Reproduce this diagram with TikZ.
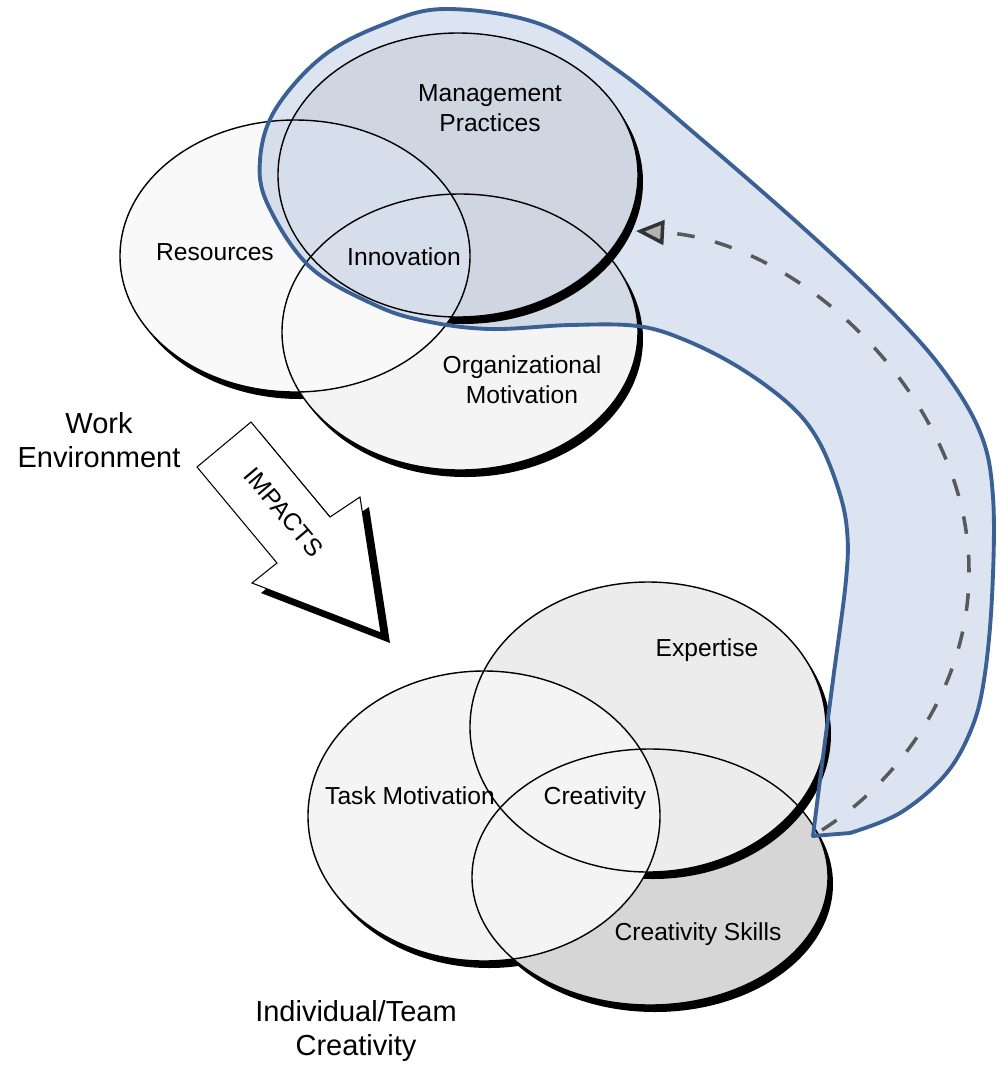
\documentclass[tikz,border=0pt]{standalone}
\usepackage{fontspec}
\setmainfont{Liberation Sans}
\usepackage{tikz}
\usetikzlibrary{arrows.meta}
\definecolor{blobfill}{RGB}{220,228,241}
\definecolor{blobline}{RGB}{58,96,148}
\tikzstyle{ring} = [draw=black, line width=0.8pt]
\tikzstyle{castshadow} = [fill=black]
\tikzstyle{setlabel} = [font=\fontsize{14}{17}\selectfont, align=center]
\tikzstyle{grouplabel} = [font=\fontsize{16.5}{19}\selectfont, align=center]
\tikzstyle{blob} = [draw=blobline, line width=2.2pt, line join=round]
\tikzstyle{feedback} = [draw=gray!70!black, line width=2pt, dash pattern=on 10pt off 12pt, -{Triangle[length=16pt,width=14pt,fill=gray!60,color=gray!40!black]}]
\tikzstyle{impactarrow} = [draw=black, line width=0.6pt, fill=white]
\tikzset{
  ressize/.style={x radius=175, y radius=136},
  mgtsize/.style={x radius=180, y radius=142},
  orgsize/.style={x radius=178, y radius=138},
  tasksize/.style={x radius=176, y radius=145},
  expsize/.style={x radius=178, y radius=145},
  skillsize/.style={x radius=178, y radius=128},
}

\begin{document}
\begin{tikzpicture}[x=0.02cm, y=-0.02cm]
  \useasboundingbox (0,0) rectangle (997,1066);

  % work environment circles
  \coordinate (res) at (295,256);
  \coordinate (mgt) at (458,175);
  \coordinate (org) at (460,332);
  \fill[castshadow] ([shift={(5,7)}]res) ellipse [ressize];
  \fill[castshadow] ([shift={(5,7)}]org) ellipse [orgsize];
  \fill[gray!9] (org) ellipse [orgsize];
  \fill[castshadow] ([shift={(5,7)}]mgt) ellipse [mgtsize];
  \fill[gray!12] (mgt) ellipse [mgtsize];
  \fill[gray!5] (res) ellipse [ressize];
  \draw[ring] (res) ellipse [ressize];
  \draw[ring] (mgt) ellipse [mgtsize];
  \draw[ring] (org) ellipse [orgsize];

  % individual / team circles
  \coordinate (task) at (484,816);
  \coordinate (exp) at (648,727);
  \coordinate (skill) at (650,877);
  \fill[castshadow] ([shift={(5,7)}]task) ellipse [tasksize];
  \fill[castshadow] ([shift={(5,7)}]skill) ellipse [skillsize];
  \fill[gray!32] (skill) ellipse [skillsize];
  \fill[castshadow] ([shift={(5,7)}]exp) ellipse [expsize];
  \fill[gray!15] (exp) ellipse [expsize];
  \fill[gray!9] (task) ellipse [tasksize];
  \draw[ring] (task) ellipse [tasksize];
  \draw[ring] (exp) ellipse [expsize];
  \draw[ring] (skill) ellipse [skillsize];

  \node[setlabel] (mgtlabel) at (490,108) {Management\\Practices};
  \node[setlabel] (reslabel) at (215,252) {Resources};
  \node[setlabel] (innov) at (404,257) {Innovation};
  \node[setlabel] (orglabel) at (522,380) {Organizational\\Motivation};
  \node[setlabel] (explabel) at (707,650) {Expertise};
  \node[setlabel] (tasklabel) at (410,796) {Task Motivation};
  \node[setlabel] (creat) at (595,798) {Creativity};
  \node[setlabel] (skilllabel) at (698,934) {Creativity Skills};

  \node[grouplabel] (work) at (99,440) {Work\\Environment};
  \node[grouplabel] (indiv) at (356,1031) {Individual/Team\\Creativity};

  % impacts block arrow
  \fill[black, shift={(9,10)}] (197,467) -- (251,422) -- (330,517) -- (360,497)
    -- (381,633) -- (252,583) -- (277,563) -- cycle;
  \draw[impactarrow] (197,467) -- (251,422) -- (330,517) -- (360,497)
    -- (381,633) -- (252,583) -- (277,563) -- cycle;
  \node[font=\fontsize{14}{16}\selectfont, rotate=-50, inner sep=0pt] (impacts) at (284,512) {IMPACTS};

  % highlighted feedback band
  \fill[blobfill, blend mode=multiply] plot[smooth, tension=0.6] coordinates {
    (813,836) (820,780) (833,680) (846,580) (847,530) (838,488) (818,440)
    (790,405) (740,368) (685,340) (637,326) (570,325) (490,329) (425,321)
    (375,305) (310,267) (268,205) (260,160) (275,110) (322,57) (382,25)
    (445,9) (540,24) (620,72) (700,138) (800,225) (880,300) (940,366)
    (980,432) (993,497) (992,597) (984,680) (971,730) (945,775)
    (900,813) (850,833)} -- cycle;
  \draw[blob] plot[smooth, tension=0.6] coordinates {
    (813,836) (820,780) (833,680) (846,580) (847,530) (838,488) (818,440)
    (790,405) (740,368) (685,340) (637,326) (570,325) (490,329) (425,321)
    (375,305) (310,267) (268,205) (260,160) (275,110) (322,57) (382,25)
    (445,9) (540,24) (620,72) (700,138) (800,225) (880,300) (940,366)
    (980,432) (993,497) (992,597) (984,680) (971,730) (945,775)
    (900,813) (850,833)} -- cycle;

  % feedback arrow
  \coordinate (fbstart) at (822,830);
  \coordinate (fbturn) at (969,570);
  \coordinate (fbend) at (636,231);
  \draw[feedback] (fbstart) .. controls (905,777) and (970,680) .. (fbturn)
    .. controls (969,400) and (800,240) .. (fbend);
\end{tikzpicture}
\end{document}
